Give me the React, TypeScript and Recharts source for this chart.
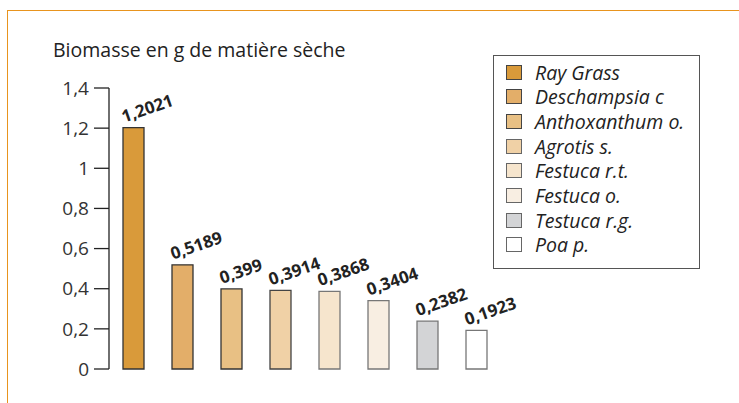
import React from 'react';
import { BarChart, Bar, Cell, XAxis, YAxis, LabelList } from 'recharts';

const species = [
    'Ray Grass',
    'Deschampsia c',
    'Anthoxanthum o.',
    'Agrotis s.',
    'Festuca r.t.',
    'Festuca o.',
    'Testuca r.g.',
    'Poa p.'
];
const biomass = [1.2021, 0.5189, 0.399, 0.3914, 0.3868, 0.3404, 0.2382, 0.1923];
const valueLabels = ['1,2021', '0,5189', '0,399', '0,3914', '0,3868', '0,3404', '0,2382', '0,1923'];
const yTicks = [0, 0.2, 0.4, 0.6, 0.8, 1, 1.2, 1.4];

const fills = ['#D99A3A', '#E3AE69', '#E8C084', '#F0D1A6', '#F6E5CD', '#F8EEE2', '#D3D4D6', '#FFFFFF'];
const strokes = ['#333', '#333', '#333', '#444', '#777', '#777', '#777', '#777'];

const data = species.map((name, i) => ({ name, value: biomass[i], label: valueLabels[i] }));

const FONT = '"Open Sans", Lato, sans-serif';

const fmtTick = (v: number) => String(Number(v.toFixed(1))).replace('.', ',');

const ValueLabel = (props: any) => {
    const { x, y, index } = props;
    const tx = x + 1;
    const ty = y - 5;
    return (
        <text
            x={tx}
            y={ty}
            transform={`rotate(-19 ${tx} ${ty})`}
            fontFamily={FONT}
            fontWeight="bold"
            fontSize={17}
            fill="#222"
            textAnchor="start"
        >
            {valueLabels[index]}
        </text>
    );
};

const Legend = () => (
    <div
        style={{
            position: 'absolute',
            left: 493,
            top: 55,
            width: 207,
            height: 214,
            border: '1px solid #555',
            background: '#fff',
            boxSizing: 'border-box',
            fontFamily: FONT,
            fontStyle: 'italic',
            fontSize: 19.5,
            color: '#222'
        }}
    >
        {species.map((s, i) => (
            <div
                key={s}
                style={{ position: 'absolute', left: 12, top: 3 + i * 24.7, height: 26, display: 'flex', alignItems: 'center' }}
            >
                <div
                    style={{
                        width: 16,
                        height: 15,
                        background: fills[i],
                        border: `1px solid ${strokes[i] === '#333' ? '#444' : '#666'}`,
                        boxSizing: 'border-box',
                        marginRight: 13
                    }}
                />
                <span>{s}</span>
            </div>
        ))}
    </div>
);

const App = () => {
    return (
        <div style={{ position: 'fixed', left: 0, top: 0, width: 739, height: 403, background: '#fff' }}>
            <div
                style={{
                    position: 'absolute',
                    left: 7,
                    top: 10,
                    right: 0,
                    bottom: 0,
                    borderTop: '1.5px solid #E8941E',
                    borderLeft: '1.5px solid #E8941E'
                }}
            />
            <div
                style={{
                    position: 'absolute',
                    left: 53,
                    top: 36,
                    fontFamily: FONT,
                    fontSize: 19.5,
                    color: '#222',
                    whiteSpace: 'nowrap'
                }}
            >
                Biomasse en g de matière sèche
            </div>
            <div style={{ position: 'absolute', left: 0, top: 0 }}>
                <BarChart width={739} height={403} data={data} margin={{ top: 88, right: 200, bottom: 34, left: 49 }}>
                    <XAxis
                        dataKey="name"
                        tick={false}
                        tickLine={false}
                        height={0}
                        padding={{ left: 0, right: 38 }}
                        axisLine={{ stroke: '#222', strokeWidth: 1.3 }}
                    />
                    <XAxis
                        xAxisId="top"
                        orientation="top"
                        dataKey="name"
                        tick={false}
                        tickLine={false}
                        height={0}
                        axisLine={{ stroke: '#333', strokeWidth: 1 }}
                    />
                    <YAxis
                        domain={[0, 1.4]}
                        ticks={yTicks}
                        tickFormatter={fmtTick}
                        width={60}
                        tickSize={15}
                        tickMargin={5}
                        interval={0}
                        axisLine={{ stroke: '#222', strokeWidth: 1.3 }}
                        tickLine={{ stroke: '#222', strokeWidth: 1.3 }}
                        tick={{ fontFamily: FONT, fontSize: 19, fill: '#333' }}
                    />
                    <YAxis
                        yAxisId="right"
                        orientation="right"
                        domain={[0, 1.4]}
                        tick={false}
                        tickLine={false}
                        width={0}
                        axisLine={{ stroke: '#333', strokeWidth: 1 }}
                    />
                    <Bar dataKey="value" barSize={21} isAnimationActive={false} strokeWidth={1.3}>
                        {data.map((d, i) => (
                            <Cell key={d.name} fill={fills[i]} stroke={strokes[i]} />
                        ))}
                        <LabelList dataKey="label" content={<ValueLabel />} />
                    </Bar>
                </BarChart>
            </div>
            <Legend />
        </div>
    );
};

export default App;
